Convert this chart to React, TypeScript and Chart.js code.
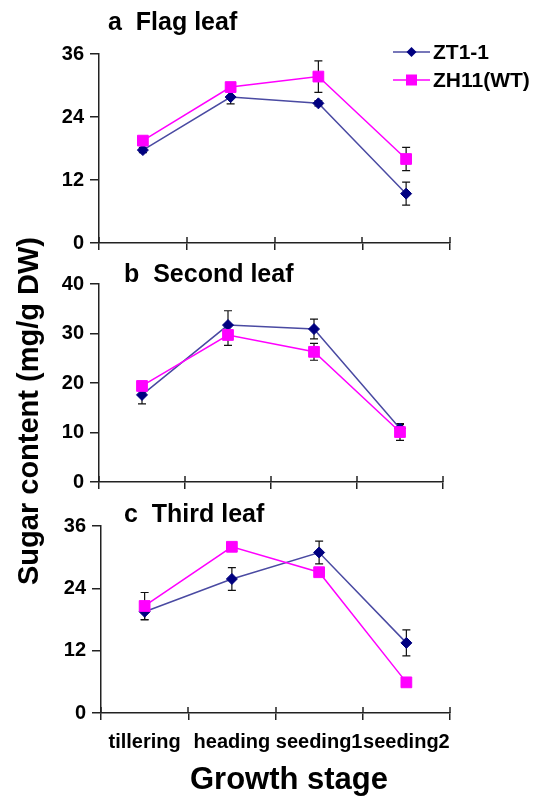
import React, { useEffect, useRef } from 'react';
import { Chart, registerables } from 'chart.js';

Chart.register(...registerables);

// ---------------- data ----------------
const stages = ['tillering', 'heading', 'seeding1', 'seeding2'];
const seriesNames = ['ZT1-1', 'ZH11(WT)'];

const flagZT = [17.7, 27.8, 26.6, 9.4];
const flagZTErr = [0.5, 1.3, 0.5, 2.2];
const flagZH = [19.5, 29.7, 31.7, 16.0];
const flagZHErr = [0.5, 0.6, 3.0, 2.2];

const secondZT = [17.6, 31.7, 30.9, 10.8];
const secondZTErr = [1.8, 2.9, 2.0, 0.8];
const secondZH = [19.4, 29.7, 26.3, 10.1];
const secondZHErr = [0.5, 2.1, 1.7, 1.7];

const thirdZT = [19.5, 25.8, 30.9, 13.5];
const thirdZTErr = [1.6, 2.2, 2.2, 2.5];
const thirdZH = [20.6, 32.0, 27.1, 5.9];
const thirdZHErr = [2.6, 0.3, 0.3, 0.3];

const panelTitles = ['a  Flag leaf', 'b  Second leaf', 'c  Third leaf'];
const yMaxes = [36, 40, 36];
const ySteps = [12, 10, 12];
const yAxisTitle = 'Sugar content (mg/g DW)';
const xAxisTitle = 'Growth stage';

// ---------------- styles / layout ----------------
const W = 540;
const H = 801;
const FONT = '"Liberation Sans", Arial, sans-serif';
const ZT_LINE = '#4a4aa2';
const ZT_MARK = '#000080';
const ZH_COLOR = '#ff00ff';
const AXIS = '#222222';
const YW = 60; // fixed y-axis box width

const panels = [
  { L: 99, R: 450, T: 54, B: 243, XH: 8, labels: false, title: { x: 108, y: 30 },
    zt: flagZT, ztErr: flagZTErr, zh: flagZH, zhErr: flagZHErr, legend: true, axisTitles: false },
  { L: 99, R: 443, T: 284, B: 482, XH: 8, labels: false, title: { x: 124, y: 282 },
    zt: secondZT, ztErr: secondZTErr, zh: secondZH, zhErr: secondZHErr, legend: false, axisTitles: false },
  { L: 101, R: 450, T: 526, B: 713, XH: 40, labels: true, title: { x: 124, y: 522 },
    zt: thirdZT, ztErr: thirdZTErr, zh: thirdZH, zhErr: thirdZHErr, legend: false, axisTitles: true },
];

function drawDiamond(ctx, x, y, r, color) {
  ctx.beginPath();
  ctx.moveTo(x, y - r);
  ctx.lineTo(x + r, y);
  ctx.lineTo(x, y + r);
  ctx.lineTo(x - r, y);
  ctx.closePath();
  ctx.fillStyle = color;
  ctx.fill();
}

const errorBarPlugin = {
  id: 'errorBars',
  beforeDatasetsDraw(chart) {
    const ctx = chart.ctx;
    const ys = chart.scales.y;
    ctx.save();
    ctx.strokeStyle = '#111';
    ctx.lineWidth = 1.2;
    chart.data.datasets.forEach((ds, i) => {
      const meta = chart.getDatasetMeta(i);
      const errs = ds.errors || [];
      meta.data.forEach((pt, j) => {
        const v = ds.data[j];
        const e = errs[j] || 0;
        if (!e) return;
        const x = pt.x;
        const y1 = ys.getPixelForValue(v + e);
        const y2 = ys.getPixelForValue(v - e);
        ctx.beginPath();
        ctx.moveTo(x, y1);
        ctx.lineTo(x, y2);
        ctx.moveTo(x - 4, y1);
        ctx.lineTo(x + 4, y1);
        ctx.moveTo(x - 4, y2);
        ctx.lineTo(x + 4, y2);
        ctx.stroke();
      });
    });
    ctx.restore();
  },
};

const decorPlugin = {
  id: 'decor',
  afterDraw(chart, args, opts) {
    const ctx = chart.ctx;
    const p = opts.panel;
    const xs = chart.scales.x;
    ctx.save();
    // upward half of the crossing x tick marks
    ctx.strokeStyle = AXIS;
    ctx.lineWidth = 1.5;
    for (let i = 0; i <= stages.length; i++) {
      const px = Math.round(xs.getPixelForValue(i - 0.5));
      ctx.beginPath();
      ctx.moveTo(px, xs.top - 6);
      ctx.lineTo(px, xs.top);
      ctx.stroke();
    }
    // panel title
    ctx.fillStyle = '#000';
    ctx.font = `bold 25px ${FONT}`;
    ctx.textAlign = 'left';
    ctx.textBaseline = 'alphabetic';
    ctx.fillText(opts.title, p.title.x, p.title.y);

    if (p.legend) {
      const items = [
        { name: seriesNames[0], y: 52, line: ZT_LINE, type: 'diamond' },
        { name: seriesNames[1], y: 80, line: ZH_COLOR, type: 'square' },
      ];
      items.forEach((it) => {
        ctx.strokeStyle = it.line;
        ctx.lineWidth = 1.5;
        ctx.beginPath();
        ctx.moveTo(393, it.y);
        ctx.lineTo(430, it.y);
        ctx.stroke();
        if (it.type === 'diamond') {
          drawDiamond(ctx, 411.5, it.y, 5, ZT_MARK);
        } else {
          ctx.fillStyle = ZH_COLOR;
          ctx.fillRect(411.5 - 5.5, it.y - 5.5, 11, 11);
        }
        ctx.fillStyle = '#000';
        ctx.font = `bold 21px ${FONT}`;
        ctx.textAlign = 'left';
        ctx.textBaseline = 'middle';
        ctx.fillText(it.name, 433, it.y + 1);
      });
    }

    if (p.axisTitles) {
      ctx.fillStyle = '#000';
      ctx.save();
      ctx.translate(37.5, 411);
      ctx.rotate(-Math.PI / 2);
      ctx.font = `bold 29px ${FONT}`;
      ctx.textAlign = 'center';
      ctx.textBaseline = 'alphabetic';
      ctx.fillText(yAxisTitle, 0, 0);
      ctx.restore();
      ctx.font = `bold 31px ${FONT}`;
      ctx.textAlign = 'center';
      ctx.textBaseline = 'alphabetic';
      ctx.fillText(xAxisTitle, 289, 789);
    }
    ctx.restore();
  },
};

function Panel({ index }) {
  const ref = useRef(null);
  useEffect(() => {
    const p = panels[index];
    const chart = new Chart(ref.current, {
      type: 'line',
      data: {
        labels: stages,
        datasets: [
          {
            label: seriesNames[0],
            data: p.zt,
            errors: p.ztErr,
            borderColor: ZT_LINE,
            borderWidth: 1.5,
            pointStyle: 'rectRot',
            pointRadius: 5.5,
            pointBackgroundColor: ZT_MARK,
            pointBorderColor: ZT_MARK,
            pointBorderWidth: 1,
            tension: 0,
            fill: false,
            order: 1,
          },
          {
            label: seriesNames[1],
            data: p.zh,
            errors: p.zhErr,
            borderColor: ZH_COLOR,
            borderWidth: 1.5,
            pointStyle: 'rect',
            pointRadius: 7.6,
            pointBackgroundColor: ZH_COLOR,
            pointBorderColor: ZH_COLOR,
            pointBorderWidth: 1,
            tension: 0,
            fill: false,
            order: 0,
          },
        ],
      },
      options: {
        responsive: false,
        animation: false,
        devicePixelRatio: 1,
        events: [],
        layout: {
          padding: {
            left: p.L - YW,
            right: W - p.R,
            top: p.T,
            bottom: H - p.B - p.XH,
          },
        },
        plugins: {
          legend: { display: false },
          tooltip: { enabled: false },
          title: { display: false },
          decor: { panel: p, title: panelTitles[index] },
        },
        scales: {
          x: {
            type: 'category',
            offset: true,
            grid: {
              offset: true,
              drawOnChartArea: false,
              drawTicks: true,
              tickLength: 7,
              color: AXIS,
              lineWidth: 1.5,
            },
            border: { display: true, color: AXIS, width: 1.5 },
            ticks: {
              display: p.labels,
              autoSkip: false,
              maxRotation: 0,
              minRotation: 0,
              padding: 10,
              color: '#000',
              font: { family: FONT, size: 20, weight: 'bold' },
            },
            afterFit: (s) => {
              s.height = p.XH;
            },
          },
          y: {
            min: 0,
            max: yMaxes[index],
            ticks: {
              stepSize: ySteps[index],
              padding: 6,
              color: '#000',
              font: { family: FONT, size: 20, weight: 'bold' },
            },
            grid: {
              drawOnChartArea: false,
              drawTicks: true,
              tickLength: 9,
              color: AXIS,
              lineWidth: 1.5,
            },
            border: { display: true, color: AXIS, width: 1.5 },
            afterFit: (s) => {
              s.width = YW;
            },
          },
        },
      },
      plugins: [errorBarPlugin, decorPlugin],
    });
    return () => chart.destroy();
  }, [index]);
  return (
    <canvas
      ref={ref}
      width={W}
      height={H}
      style={{ position: 'absolute', left: 0, top: 0, width: W, height: H }}
    />
  );
}

export default function App() {
  return (
    <div style={{ position: 'absolute', left: 0, top: 0, width: W, height: H, background: '#fff' }}>
      <Panel index={0} />
      <Panel index={1} />
      <Panel index={2} />
    </div>
  );
}
